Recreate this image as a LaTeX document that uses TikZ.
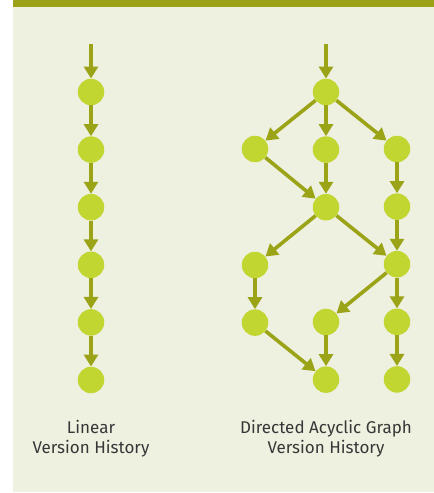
\documentclass[tikz,border=0pt]{standalone}
\usepackage{fontspec}
\setmainfont{Fira Sans}
\usepackage{tikz}
\usetikzlibrary{arrows.meta,positioning}

\definecolor{panel}{RGB}{238,240,224}
\definecolor{bar}{RGB}{155,162,24}
\definecolor{leaf}{RGB}{193,214,48}
\definecolor{stem}{RGB}{155,163,22}
\definecolor{caption}{RGB}{55,55,55}

\begin{document}
\begin{tikzpicture}[x=1pt, y=-1pt, node distance = {57.6pt},
	main/.style = {circle, fill=leaf, minimum size=26.5pt, inner sep=0pt},
	edge/.style = {draw=stem, line width=3.6pt, -{Triangle[width=14pt,length=12pt]}},
	label/.style = {text=caption, align=center, font=\fontsize{17}{20}\selectfont}]
	\useasboundingbox (0,0) rectangle (434,493);
	\fill[panel] (13,0) rectangle (434,492);
	\fill[bar] (13,0) rectangle (434,7);

	% linear history
	\coordinate (l0) at (91,44);
	\node[main] (l1) at (91,92) {};
	\node[main] (l2) [below of=l1] {};
	\node[main] (l3) [below of=l2] {};
	\node[main] (l4) [below of=l3] {};
	\node[main] (l5) [below of=l4] {};
	\node[main] (l6) [below of=l5] {};
	\foreach \a/\b in {l0/l1, l1/l2, l2/l3, l3/l4, l4/l5, l5/l6}
		\draw[edge] (\a) -- (\b);

	% dag history
	\coordinate (d0) at (326,44);
	\node[main] (c1) at (326,92) {};
	\node[main] (c2) [below of=c1] {};
	\node[main] (c3) [below of=c2] {};
	\node[main] (c5) at (326,322) {};
	\node[main] (c6) [below of=c5] {};
	\node[main] (a2) at (255,149) {};
	\node[main] (a4) at (255,265) {};
	\node[main] (a5) [below of=a4] {};
	\node[main] (b2) at (397,149) {};
	\node[main] (b3) [below of=b2] {};
	\node[main] (b4) [below of=b3] {};
	\node[main] (b5) [below of=b4] {};
	\node[main] (b6) [below of=b5] {};
	\foreach \a/\b in {d0/c1, c1/a2, c1/c2, c1/b2, a2/c3, c2/c3, b2/b3,
		c3/a4, c3/b4, b3/b4, a4/a5, b4/c5, b4/b5, a5/c6, c5/c6, b5/b6}
		\draw[edge] (\a) -- (\b);

	\node[label] (t1) at (91,439) {Linear\\Version History};
	\node[label] (t2) at (326,439) {Directed Acyclic Graph\\Version History};
\end{tikzpicture}
\end{document}
